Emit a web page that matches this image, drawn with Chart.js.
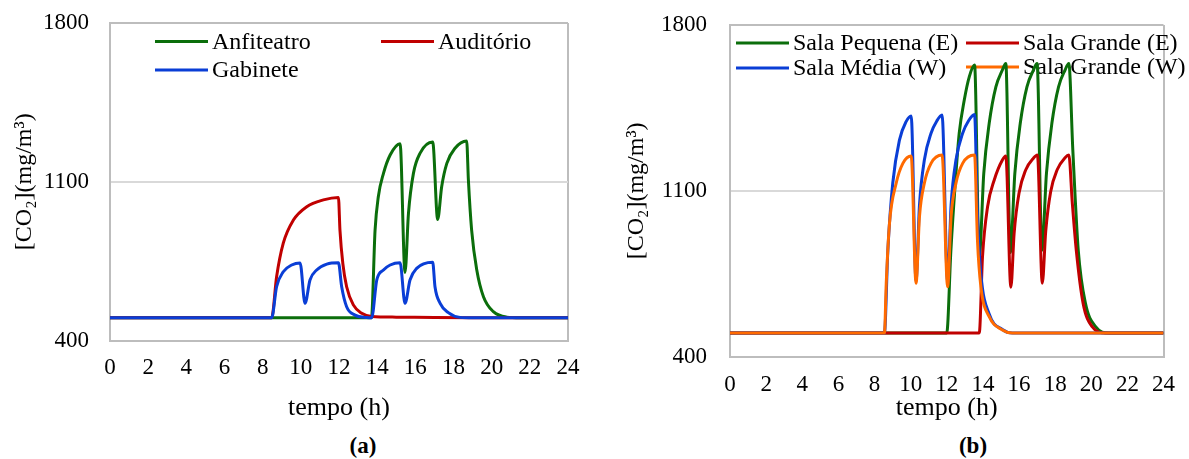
<!DOCTYPE html>
<html>
<head>
<meta charset="utf-8">
<script src="https://cdn.jsdelivr.net/npm/chart.js@4.4.1/dist/chart.umd.min.js"></script>
<style>
  body { margin: 0; background: #fff; width: 1189px; height: 459px; overflow: hidden; position: relative; }
  canvas { position: absolute; top: 0; }
  #chartA { left: 0; }
  #chartB { left: 595px; }
  .cap { position: absolute; top: 433px; font: bold 23px "Liberation Serif", "Times New Roman", serif; transform: translateX(-50%); }
</style>
</head>
<body>
<canvas id="chartA" width="595" height="430"></canvas>
<canvas id="chartB" width="594" height="430"></canvas>
<div class="cap" style="left:363px">(a)</div>
<div class="cap" style="left:973px">(b)</div>
<script>
// axis ticks (h and mg/m3)
const hourTicks = [0, 2, 4, 6, 8, 10, 12, 14, 16, 18, 20, 22, 24];
const co2Ticks = [400, 1100, 1800];

// (a) Anfiteatro / Auditório / Gabinete
const anfiteatroT = [0, 13.7, 13.89, 14.06, 14.33, 14.68, 15.2, 15.46, 15.64, 15.9, 16.25, 16.91, 17.17, 17.38, 17.65, 18.08, 18.69, 18.78, 18.95, 19.22, 19.57, 20.09, 20.79, 21.5, 24];
const anfiteatroC = [500, 500, 887, 1034, 1137, 1218, 1268, 700, 961, 1137, 1226, 1275, 934, 1078, 1181, 1248, 1280, 1108, 887, 711, 593, 527, 503, 500, 500];

const auditorioT = [0, 8.47, 8.73, 9.08, 9.61, 10.31, 11.18, 11.97, 12.05, 12.2, 12.4, 12.75, 13.19, 13.71, 15, 17, 19, 24];
const auditorioC = [500, 500, 681, 829, 931, 990, 1020, 1031, 887, 740, 637, 557, 520, 506, 503, 501, 500, 500];

const gabineteT = [0, 8.47, 8.73, 9.08, 9.52, 9.96, 10.22, 10.48, 10.83, 11.36, 11.97, 12.14, 12.4, 12.84, 13.45, 13.71, 13.98, 14.33, 14.68, 15.2, 15.46, 15.72, 16.07, 16.91, 17.03, 17.3, 17.73, 18.34, 19, 24];
const gabineteC = [500, 500, 637, 703, 733, 742, 564, 667, 711, 737, 743, 637, 549, 512, 501, 500, 667, 711, 733, 743, 564, 667, 718, 745, 637, 564, 523, 502, 500, 500];

// (b) salas orientadas a E / W
const pequenaET = [0, 12.0, 12.23, 12.47, 12.69, 12.97, 13.25, 13.54, 13.8, 14.05, 14.35, 14.72, 15.08, 15.27, 15.52, 15.77, 16.07, 16.44, 16.8, 17.0, 17.27, 17.52, 17.82, 18.19, 18.55, 18.76, 18.98, 19.28, 19.68, 20.24, 20.97, 24];
const pequenaEC = [500, 500, 850, 1132, 1343, 1483, 1582, 1631, 822, 1174, 1385, 1539, 1610, 1638, 840, 1174, 1385, 1539, 1610, 1638, 850, 1174, 1385, 1539, 1610, 1638, 1272, 850, 625, 527, 500, 500];

const grandeET = [0, 13.8, 13.98, 14.26, 14.63, 15.08, 15.27, 15.55, 15.73, 16.0, 16.37, 16.8, 17.02, 17.29, 17.48, 17.75, 18.12, 18.55, 18.76, 18.95, 19.17, 19.55, 20.05, 20.8, 24];
const grandeEC = [500, 500, 822, 1033, 1146, 1230, 1247, 693, 921, 1090, 1188, 1238, 1251, 710, 930, 1095, 1190, 1240, 1251, 1050, 850, 625, 527, 500, 500];

const mediaWT = [0, 8.55, 8.74, 9.01, 9.38, 9.75, 10.03, 10.3, 10.49, 10.76, 11.13, 11.45, 11.74, 12.05, 12.24, 12.51, 12.88, 13.2, 13.54, 13.7, 13.89, 14.35, 15.08, 15.63, 24];
const mediaWC = [500, 500, 850, 1132, 1314, 1392, 1416, 720, 1040, 1230, 1343, 1395, 1420, 715, 1040, 1230, 1343, 1395, 1422, 1000, 750, 580, 515, 500, 500];

const grandeWT = [0, 8.55, 8.65, 8.83, 9.2, 9.57, 10.03, 10.3, 10.49, 10.76, 11.13, 11.74, 12.05, 12.24, 12.51, 12.88, 13.54, 13.7, 13.89, 14.35, 15.08, 15.63, 24];
const grandeWC = [500, 500, 710, 963, 1132, 1216, 1247, 710, 991, 1132, 1216, 1251, 695, 991, 1132, 1216, 1251, 892, 695, 569, 513, 500, 500];

const FONT = '"Liberation Serif", "Times New Roman", serif';
const GREEN = '#0b6e0b', RED = '#c00000', BLUE = '#0a3ed6', ORANGE = '#ff6a00';
const FRAME = '#bdbdbd', GRID = '#d9d9d9';

function pts(t, c) {
  return t.map((x, i) => ({ x: x, y: c[i] }));
}

function series(label, t, c, color, order) {
  return {
    label: label,
    data: pts(t, c),
    borderColor: color,
    backgroundColor: color,
    borderWidth: 3,
    pointRadius: 0,
    cubicInterpolationMode: 'monotone',
    order: order
  };
}

// legend drawn inside the plot, under the curves
const inlineLegend = {
  id: 'inlineLegend',
  beforeDatasetsDraw(chart, args, opts) {
    const ctx = chart.ctx;
    ctx.save();
    ctx.font = opts.font;
    ctx.textBaseline = 'middle';
    chart.data.datasets.forEach((ds, i) => {
      const p = opts.spots[i];
      ctx.strokeStyle = ds.borderColor;
      ctx.lineWidth = 3;
      ctx.beginPath();
      ctx.moveTo(p[0], p[1]);
      ctx.lineTo(p[0] + 53, p[1]);
      ctx.stroke();
      ctx.fillStyle = '#000';
      ctx.fillText(ds.label, p[0] + 57, p[1] + 1);
    });
    ctx.restore();
  }
};

function makeOptions(o) {
  return {
    responsive: false,
    animation: false,
    devicePixelRatio: 1,
    layout: { padding: { top: o.top, right: o.right, left: 0, bottom: 0 } },
    plugins: {
      legend: { display: false },
      tooltip: { enabled: false },
      inlineLegend: { font: '24px ' + FONT, spots: o.spots }
    },
    scales: {
      x: {
        type: 'linear',
        min: 0, max: 24,
        afterBuildTicks: s => { s.ticks = hourTicks.map(v => ({ value: v })); },
        afterFit: s => { s.height = o.xHeight; },
        ticks: { color: '#000', font: { family: FONT, size: 23 }, padding: 14, maxRotation: 0, autoSkip: false, callback: v => String(v) },
        grid: {
          drawTicks: false,
          lineWidth: 2,
          color: c => (c.tick && c.tick.value === 24 ? FRAME : 'transparent')
        },
        border: { display: true, color: FRAME, width: 2 },
        title: { display: true, text: 'tempo (h)', color: '#000', font: { family: FONT, size: 26 }, padding: { top: 0, bottom: o.xTitlePad } }
      },
      y: {
        min: 400, max: 1800,
        afterBuildTicks: s => { s.ticks = co2Ticks.map(v => ({ value: v })); },
        // keep the tick label padding from pushing the plot area down
        afterFit: s => { s.width = o.yWidth; s.paddingTop = 0; s.paddingBottom = 0; },
        ticks: { color: '#000', font: { family: FONT, size: 23 }, padding: o.yTickPad, callback: v => String(v) },
        grid: {
          drawTicks: false,
          lineWidth: 2,
          color: c => (c.tick && c.tick.value === 1100 ? GRID : FRAME)
        },
        border: { display: true, color: FRAME, width: 2 },
        title: { display: true, text: '[CO₂](mg/m³)', color: '#000', font: { family: FONT, size: 24 }, padding: { top: o.yTitlePad, bottom: 0 } }
      }
    }
  };
}

new Chart(document.getElementById('chartA'), {
  type: 'line',
  data: {
    datasets: [
      series('Anfiteatro', anfiteatroT, anfiteatroC, GREEN, 3),
      series('Auditório', auditorioT, auditorioC, RED, 2),
      series('Gabinete', gabineteT, gabineteC, BLUE, 1)
    ]
  },
  options: makeOptions({
    top: 23, right: 27, xHeight: 89.5, yWidth: 110, xTitlePad: 6, yTitlePad: 10, yTickPad: 21,
    spots: [[155, 41.5], [381, 41.5], [155, 70]]
  }),
  plugins: [inlineLegend]
});

new Chart(document.getElementById('chartB'), {
  type: 'line',
  data: {
    datasets: [
      series('Sala Pequena (E)', pequenaET, pequenaEC, GREEN, 4),
      series('Sala Grande (E)', grandeET, grandeEC, RED, 3),
      series('Sala Média (W)', mediaWT, mediaWC, BLUE, 2),
      series('Sala Grande (W)', grandeWT, grandeWC, ORANGE, 1)
    ]
  },
  options: makeOptions({
    top: 25, right: 24, xHeight: 73.3, yWidth: 135, xTitlePad: 6, yTitlePad: 27, yTickPad: 23,
    spots: [[141, 43], [371, 43], [141, 68], [371, 67]]
  }),
  plugins: [inlineLegend]
});
</script>
</body>
</html>
